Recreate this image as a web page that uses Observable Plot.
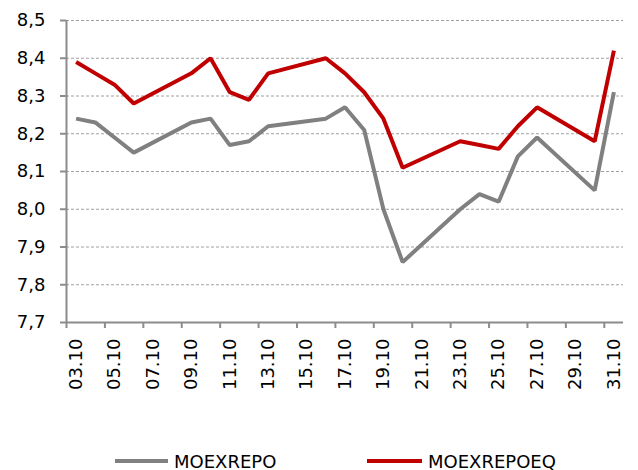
<!DOCTYPE html>
<html>
<head>
<meta charset="utf-8">
<script src="https://cdn.jsdelivr.net/npm/d3@7"></script>
<script src="https://cdn.jsdelivr.net/npm/@observablehq/plot@0.6"></script>
<style>
  html, body { margin: 0; padding: 0; background: #fff; overflow: hidden; }
  #wrap { position: relative; width: 638px; height: 470px; font-family: "DejaVu Sans", sans-serif; }
  #legend { position: absolute; left: 0; top: 446px; width: 638px; height: 30px; }
  .item { position: absolute; top: 0; height: 30px; display: flex; align-items: center; font-size: 18px; color: #000; }
  .swatch { display: inline-block; height: 4px; margin-right: 6px; }
</style>
</head>
<body>
<div id="wrap">
  <div id="chart"></div>
  <div id="legend"></div>
</div>
<script>
// Dates (day.month) of October
const dates = ["03.10","04.10","05.10","06.10","09.10","10.10","11.10","12.10","13.10","16.10","17.10","18.10","19.10","20.10","23.10","24.10","25.10","26.10","27.10","30.10","31.10"];
const moexrepo   = [8.24,8.23,8.19,8.15,8.23,8.24,8.17,8.18,8.22,8.24,8.27,8.21,8.00,7.86,8.00,8.04,8.02,8.14,8.19,8.05,8.31];
const moexrepoeq = [8.39,8.36,8.33,8.28,8.36,8.40,8.31,8.29,8.36,8.40,8.36,8.31,8.24,8.11,8.18,8.17,8.16,8.22,8.27,8.18,8.42];
const seriesNames = ["MOEXREPO", "MOEXREPOEQ"];
const seriesColors = ["#808080", "#C00000"];
const xTickLabels = ["03.10","05.10","07.10","09.10","11.10","13.10","15.10","17.10","19.10","21.10","23.10","25.10","27.10","29.10","31.10"];
const yTicks = [7.7, 7.8, 7.9, 8.0, 8.1, 8.2, 8.3, 8.4, 8.5];
const yTickLabels = ["7,7","7,8","7,9","8,0","8,1","8,2","8,3","8,4","8,5"];

const day = s => parseInt(s.split(".")[0], 10);
const firstDay = 3, lastDay = 31;

const rows = [];
dates.forEach((d, i) => {
  rows.push({day: day(d), value: moexrepo[i], series: seriesNames[0]});
  rows.push({day: day(d), value: moexrepoeq[i], series: seriesNames[1]});
});
const xLabelRows = xTickLabels.map(t => ({day: day(t), label: t}));
// category boundaries every 2 days (ticks between categories)
const xBoundaries = xTickLabels.map(t => day(t) - 0.5);
const yLabelRows = yTicks.map((v, i) => ({v, label: yTickLabels[i]}));
const axisColor = "#8c8c8c";
const font = "DejaVu Sans";

const chart = Plot.plot({
  width: 638,
  height: 440,
  marginLeft: 66,
  marginRight: 15,
  marginTop: 20,
  marginBottom: 118,
  style: {fontFamily: font, background: "#fff"},
  x: {type: "linear", domain: [firstDay - 0.5, lastDay + 0.5], axis: null},
  y: {domain: [7.7, 8.5], axis: null},
  color: {domain: seriesNames, range: seriesColors},
  marks: [
    Plot.ruleY(yTicks.filter(v => v > 7.7), {stroke: "#a0a0a0", strokeWidth: 1, strokeDasharray: "3,2"}),
    Plot.ruleY([7.7], {stroke: axisColor, strokeWidth: 2}),
    Plot.ruleX([firstDay - 0.5], {stroke: axisColor, strokeWidth: 2}),
    Plot.axisY({ticks: yTicks, tickSize: 6, tickFormat: () => "", label: null, stroke: axisColor, strokeWidth: 2}),
    Plot.axisX({ticks: xBoundaries, tickSize: 6, tickFormat: () => "", label: null, stroke: axisColor, strokeWidth: 2}),
    Plot.text(yLabelRows, {x: firstDay - 0.5, y: "v", text: "label", textAnchor: "end", lineAnchor: "middle", dx: -21, fontSize: 18, fill: "#000"}),
    Plot.text(xLabelRows, {x: "day", y: 7.7, text: "label", rotate: -90, textAnchor: "end", lineAnchor: "middle", dy: 16, fontSize: 18, fill: "#000"}),
    Plot.line(rows, {x: "day", y: "value", stroke: "series", z: "series", strokeWidth: 4, strokeLinejoin: "miter", strokeLinecap: "butt"})
  ]
});
document.getElementById("chart").appendChild(chart);

const legend = document.getElementById("legend");
const legendPos = [{sx: 115, sw: 53}, {sx: 367, sw: 55}];
seriesNames.forEach((name, i) => {
  const item = document.createElement("div");
  item.className = "item";
  item.style.left = legendPos[i].sx + "px";
  const sw = document.createElement("span");
  sw.className = "swatch";
  sw.style.width = legendPos[i].sw + "px";
  sw.style.background = seriesColors[i];
  const tx = document.createElement("span");
  tx.textContent = name;
  item.appendChild(sw);
  item.appendChild(tx);
  legend.appendChild(item);
});
</script>
</body>
</html>
